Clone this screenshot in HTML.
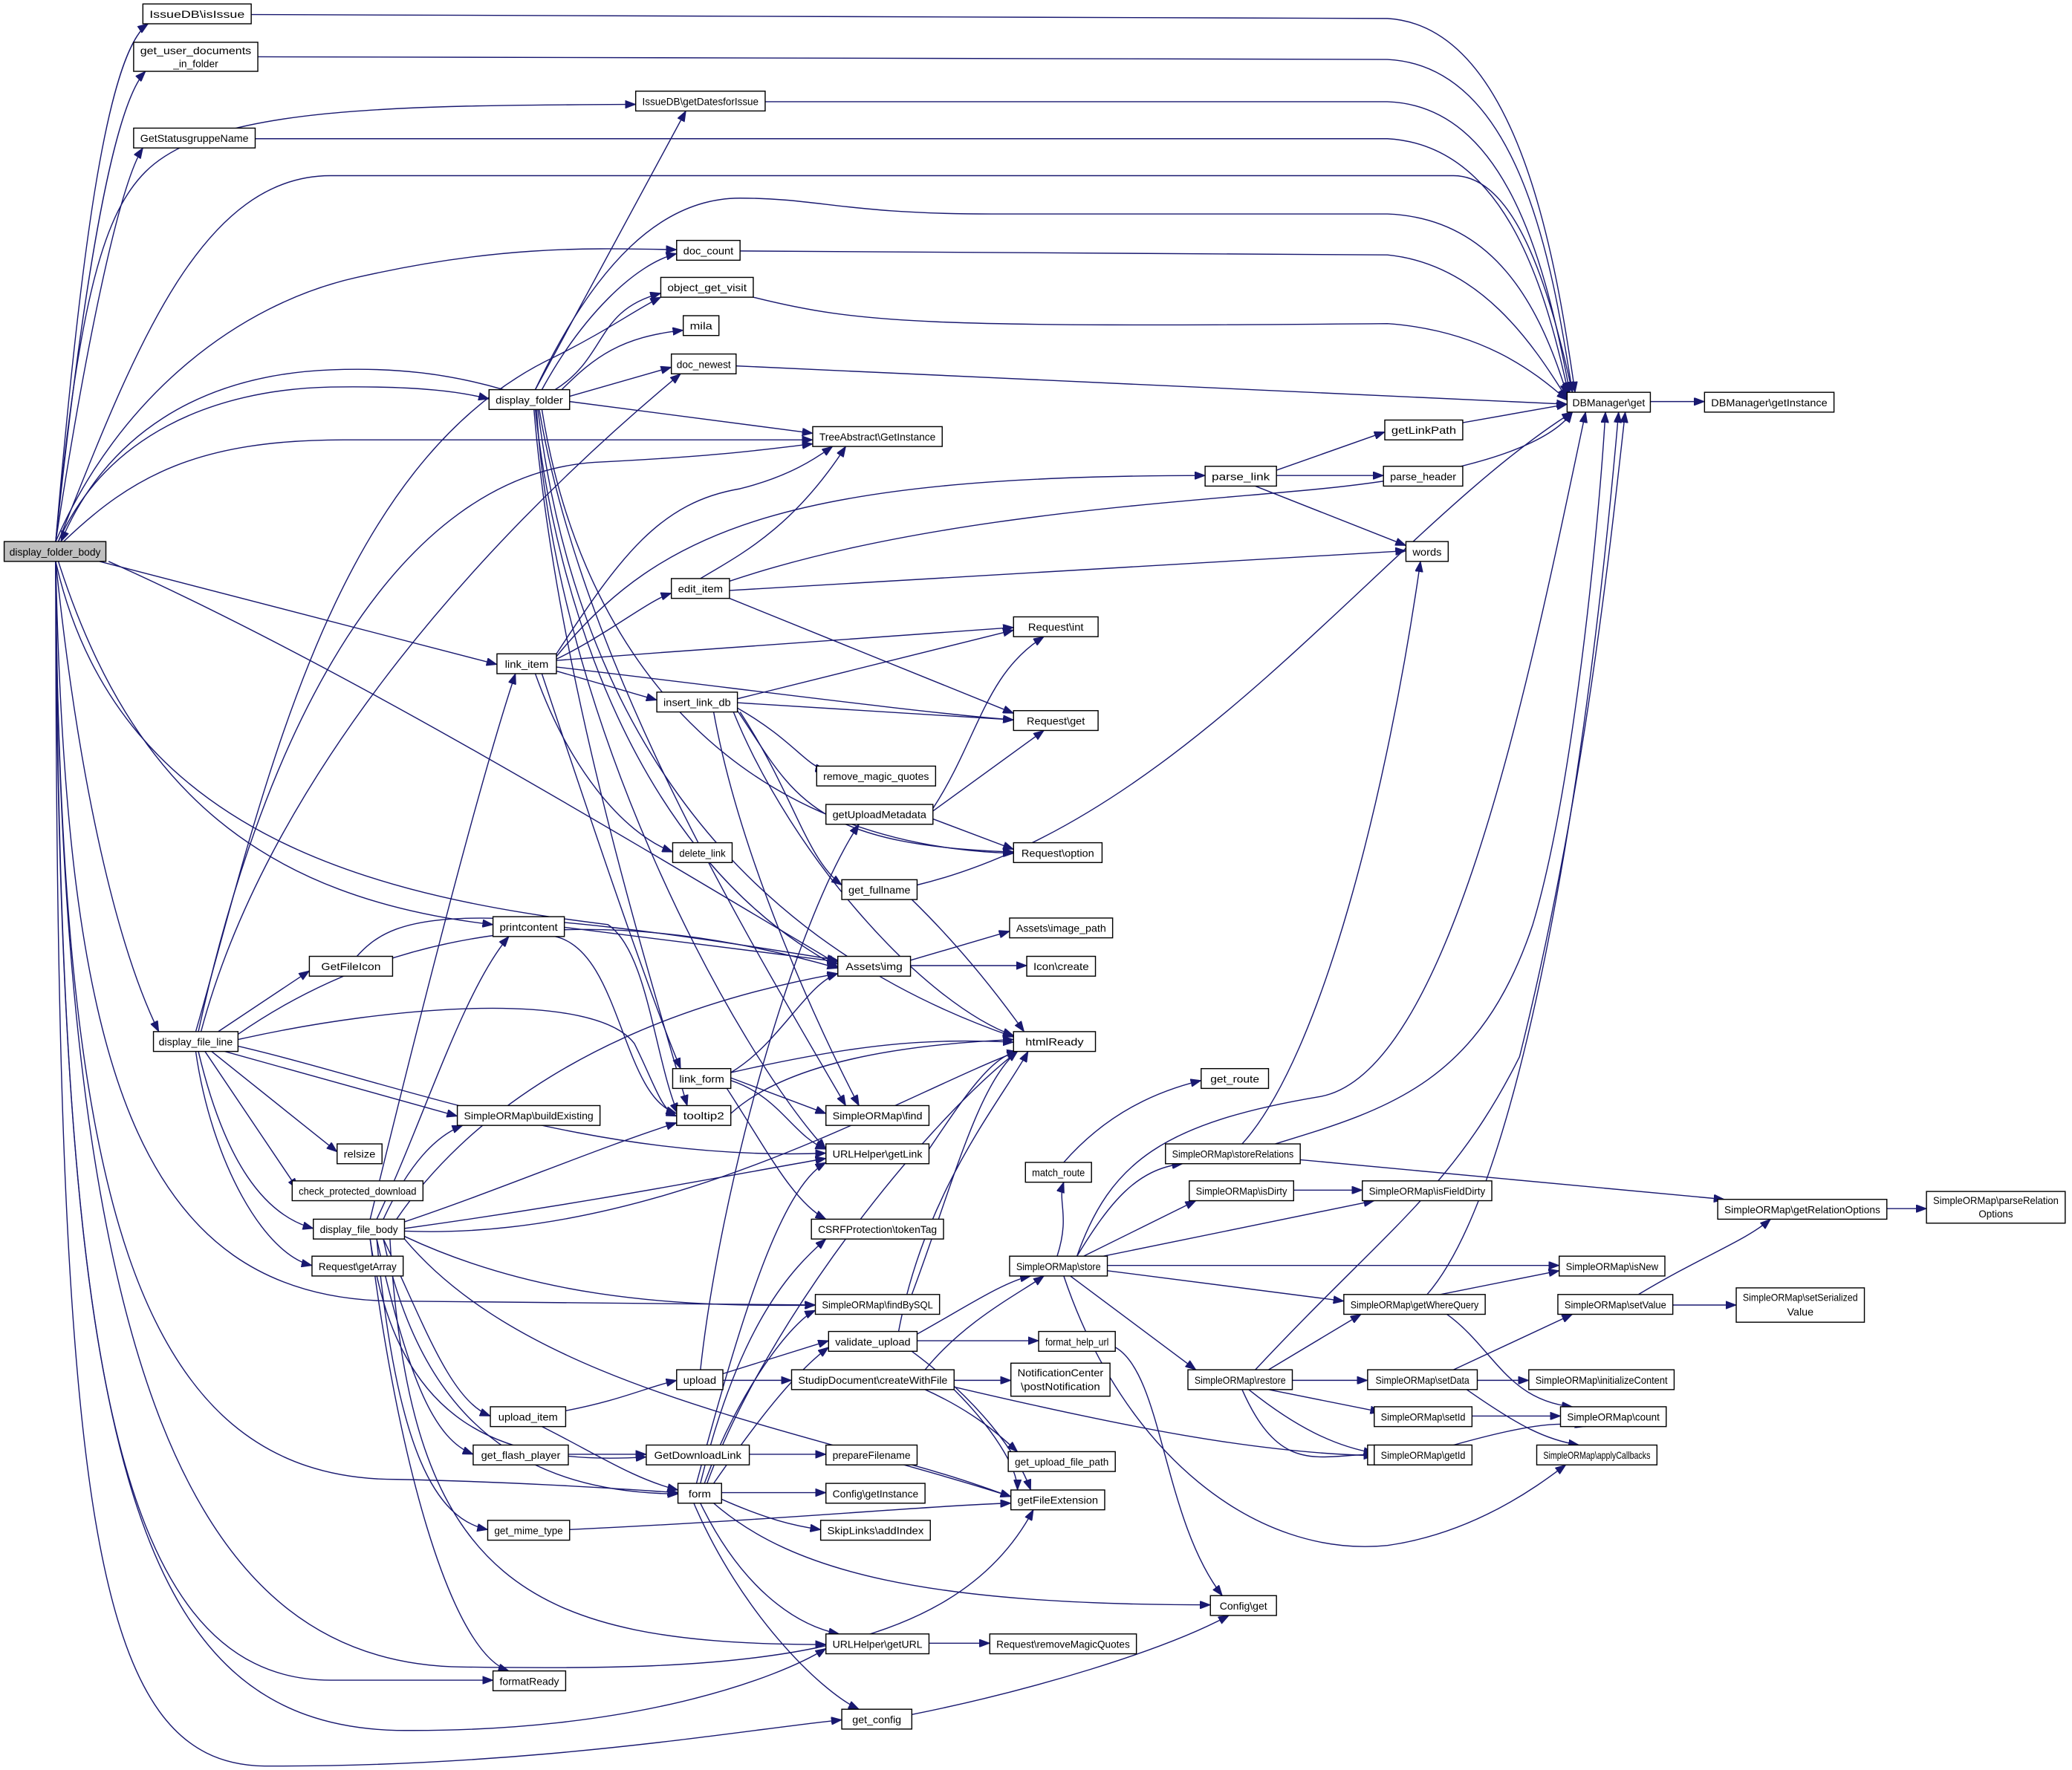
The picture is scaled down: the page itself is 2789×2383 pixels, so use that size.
<!DOCTYPE html>
<html><head><meta charset="utf-8"><style>
html,body{margin:0;padding:0;background:#fff;}
svg{display:block}
text{font-family:"Liberation Sans",sans-serif;font-size:8px;fill:#000;text-anchor:middle}
.e{fill:none;stroke:#191970;stroke-width:0.8;marker-end:url(#a)}
.n rect{fill:#fff;stroke:#000;stroke-width:0.8}
</style></head><body>
<svg width="2789" height="2383" viewBox="0 0 1568 1340" xmlns="http://www.w3.org/2000/svg">
<defs><marker id="a" markerWidth="8" markerHeight="6" refX="8" refY="3" orient="auto" markerUnits="userSpaceOnUse"><path d="M0,0 L8,3 L0,6z" fill="#191970" stroke="#191970" stroke-width="0.5"/></marker></defs>
<g>
<path class="e" d="M42,410 C60,200 80,40 112,18"/>
<path class="e" d="M42,410 C62,220 85,80 110,54"/>
<path class="e" d="M42,410 C60,220 80,160 110,130 C160,80 300,80 481,79"/>
<path class="e" d="M42,410 C65,260 90,140 108,112"/>
<path class="e" d="M44,410 C100,270 150,133 250,133 L1100,133 C1150,133 1175,230 1190,297"/>
<path class="e" d="M190,11 L1050,14 C1150,20 1178,200 1192,297"/>
<path class="e" d="M195,43 L1050,45 C1150,50 1175,200 1190,297"/>
<path class="e" d="M579,77 L1050,77 C1140,80 1170,200 1188,297"/>
<path class="e" d="M193,105 L1050,105 C1140,110 1170,220 1187,298"/>
<path class="e" d="M405,295 C450,200 500,150 560,150 C620,150 640,162 750,162 L1050,162 C1130,165 1165,230 1186,299"/>
<path class="e" d="M560,190 L1050,193 C1120,200 1160,260 1186,302"/>
<path class="e" d="M570,225 C650,245 700,248 1050,245 C1120,250 1160,280 1186,303"/>
<path class="e" d="M557,277 L1186,306"/>
<path class="e" d="M42,410 C90,300 180,230 270,210 C380,185 450,188 512,189"/>
<path class="e" d="M44,410 C80,330 160,295 250,293 C320,292 350,297 370,302"/>
<path class="e" d="M381,295 C340,283 300,278 250,280 C150,284 80,330 46,410"/>
<path class="e" d="M48,410 C100,360 150,333 260,333 L615,333"/>
<path class="e" d="M75,425 L376,503"/>
<path class="e" d="M82,425 C250,500 450,620 634,730"/>
<path class="e" d="M44,425 C100,600 200,680 373,700"/>
<path class="e" d="M42,425 C60,600 90,720 120,781"/>
<path class="e" d="M42,425 C90,640 300,680 460,700 C490,720 495,800 513,843"/>
<path class="e" d="M42,425 C50,800 100,985 300,985 L617,988"/>
<path class="e" d="M42,425 C45,900 100,1120 300,1120 C400,1122 480,1128 513,1130"/>
<path class="e" d="M42,425 C45,1000 80,1272 250,1272 L373,1272"/>
<path class="e" d="M42,425 C45,1050 150,1260 350,1262 C550,1265 720,1260 782,1143"/>
<path class="e" d="M42,425 C44,1100 100,1305 300,1310 C480,1312 590,1270 625,1248"/>
<path class="e" d="M42,425 C42,1150 70,1335 200,1337 C400,1338 560,1310 637,1302"/>
<path class="e" d="M405,295 L519,84"/>
<path class="e" d="M410,295 C440,240 480,200 512,192"/>
<path class="e" d="M420,295 C460,270 450,235 500,222"/>
<path class="e" d="M425,295 C450,270 470,255 517,250"/>
<path class="e" d="M431,300 L508,278"/>
<path class="e" d="M431,304 L615,328"/>
<path class="e" d="M405,310 C420,450 480,650 634,732"/>
<path class="e" d="M407,310 C430,500 520,700 767,785"/>
<path class="e" d="M408,310 C440,500 560,700 640,837"/>
<path class="e" d="M406,310 C420,550 560,800 625,870"/>
<path class="e" d="M404,310 C420,500 480,700 520,837"/>
<path class="e" d="M410,310 C440,500 560,640 767,646"/>
<path class="e" d="M148,781 C200,600 250,350 420,270 C460,250 480,235 500,225"/>
<path class="e" d="M150,781 C200,550 300,360 450,350 C550,345 580,340 615,336"/>
<path class="e" d="M152,781 C200,600 350,420 515,283"/>
<path class="e" d="M165,781 L234,735"/>
<path class="e" d="M180,783 C300,700 450,680 634,733"/>
<path class="e" d="M180,787 C300,760 450,750 480,790 C495,820 500,840 512,845"/>
<path class="e" d="M170,796 L346,845"/>
<path class="e" d="M160,796 L255,872"/>
<path class="e" d="M155,796 L225,900"/>
<path class="e" d="M150,796 C170,880 200,920 237,930"/>
<path class="e" d="M148,796 C160,880 200,950 236,958"/>
<path class="e" d="M180,792 C300,820 450,880 625,873"/>
<path class="e" d="M270,724 C300,690 350,680 634,727"/>
<path class="e" d="M427,702 L634,728"/>
<path class="e" d="M420,709 C470,720 470,830 512,843"/>
<path class="e" d="M553,843 C600,800 700,790 767,787"/>
<path class="e" d="M421,499 C460,480 490,455 508,449"/>
<path class="e" d="M421,500 C550,490 700,480 767,475"/>
<path class="e" d="M421,505 C550,520 700,540 767,545"/>
<path class="e" d="M421,508 L497,530"/>
<path class="e" d="M405,510 C430,580 470,630 509,645"/>
<path class="e" d="M410,510 C440,600 490,750 515,809"/>
<path class="e" d="M421,495 C470,420 500,380 560,370 C600,360 620,345 630,338"/>
<path class="e" d="M421,497 C500,400 600,360 912,360"/>
<path class="e" d="M530,438 C560,420 600,400 640,338"/>
<path class="e" d="M552,440 C700,390 900,380 1000,370 C1100,360 1170,340 1190,312"/>
<path class="e" d="M552,447 L1064,417"/>
<path class="e" d="M552,453 L767,540"/>
<path class="e" d="M558,529 L767,477"/>
<path class="e" d="M558,532 L767,545"/>
<path class="e" d="M558,536 C600,560 610,580 625,583"/>
<path class="e" d="M558,538 C600,600 610,640 767,645"/>
<path class="e" d="M555,539 C600,650 700,760 767,784"/>
<path class="e" d="M560,539 C600,600 610,650 637,670"/>
<path class="e" d="M540,539 C560,650 620,780 650,837"/>
<path class="e" d="M706,612 C740,560 745,510 790,482"/>
<path class="e" d="M706,614 L790,553"/>
<path class="e" d="M706,620 L767,643"/>
<path class="e" d="M694,670 C900,620 1050,400 1190,312"/>
<path class="e" d="M690,681 C730,720 760,760 775,781"/>
<path class="e" d="M689,727 L764,705"/>
<path class="e" d="M689,731 L777,731"/>
<path class="e" d="M966,356 L1048,327"/>
<path class="e" d="M966,360 L1047,360"/>
<path class="e" d="M950,368 L1064,413"/>
<path class="e" d="M1107,320 L1186,306"/>
<path class="e" d="M1249,304 L1290,304"/>
<path class="e" d="M553,812 C650,790 700,786 767,789"/>
<path class="e" d="M553,812 C590,790 610,745 634,737"/>
<path class="e" d="M553,818 C590,830 600,860 625,870"/>
<path class="e" d="M550,824 C580,870 600,910 625,923"/>
<path class="e" d="M553,816 L625,843"/>
<path class="e" d="M703,870 C730,830 750,800 770,796"/>
<path class="e" d="M690,980 C720,900 740,820 770,796"/>
<path class="e" d="M805,880 C840,840 880,825 909,818"/>
<path class="e" d="M800,951 C810,920 800,910 805,895"/>
<path class="e" d="M815,951 C840,910 860,885 895,881"/>
<path class="e" d="M820,951 L905,909"/>
<path class="e" d="M835,951 L1040,909"/>
<path class="e" d="M838,958 L1180,958"/>
<path class="e" d="M838,962 L1017,985"/>
<path class="e" d="M810,966 L905,1037"/>
<path class="e" d="M805,966 C850,1100 950,1180 1050,1170 C1120,1160 1170,1120 1185,1109"/>
<path class="e" d="M815,951 C840,880 880,850 1000,830 C1100,810 1160,500 1200,312"/>
<path class="e" d="M965,866 C1050,840 1120,820 1160,700 C1190,600 1210,400 1215,312"/>
<path class="e" d="M940,866 C1000,800 1050,600 1075,425"/>
<path class="e" d="M984,878 L1305,908"/>
<path class="e" d="M979,901 L1031,901"/>
<path class="e" d="M1428,915 L1458,915"/>
<path class="e" d="M1090,980 L1180,962"/>
<path class="e" d="M1095,995 C1130,1020 1140,1060 1190,1065"/>
<path class="e" d="M1080,980 C1150,900 1200,600 1225,312"/>
<path class="e" d="M1240,980 C1290,950 1320,940 1340,923"/>
<path class="e" d="M1266,988 L1314,988"/>
<path class="e" d="M960,1037 L1030,995"/>
<path class="e" d="M978,1045 L1035,1045"/>
<path class="e" d="M960,1052 L1045,1069"/>
<path class="e" d="M945,1052 C980,1080 1010,1095 1040,1100"/>
<path class="e" d="M940,1052 C970,1120 1000,1100 1045,1101"/>
<path class="e" d="M950,1037 C1050,930 1100,900 1150,800 C1200,600 1220,400 1230,312"/>
<path class="e" d="M1100,1037 L1190,995"/>
<path class="e" d="M1118,1045 L1157,1045"/>
<path class="e" d="M1110,1052 C1150,1080 1170,1090 1195,1094"/>
<path class="e" d="M1114,1072 L1181,1072"/>
<path class="e" d="M1100,1094 C1150,1080 1180,1075 1200,1080"/>
<path class="e" d="M530,1037 C545,900 600,700 650,624"/>
<path class="e" d="M547,1040 L627,1015"/>
<path class="e" d="M547,1045 L599,1045"/>
<path class="e" d="M694,1010 C730,990 760,970 780,966"/>
<path class="e" d="M694,1015 L786,1015"/>
<path class="e" d="M680,1008 C700,900 760,830 778,796"/>
<path class="e" d="M690,1023 C740,1060 770,1100 780,1128"/>
<path class="e" d="M700,1037 C730,1000 770,980 790,966"/>
<path class="e" d="M722,1045 L765,1045"/>
<path class="e" d="M700,1052 C740,1070 760,1090 770,1099"/>
<path class="e" d="M722,1050 C850,1080 950,1100 1040,1102"/>
<path class="e" d="M722,1052 C750,1080 770,1110 770,1128"/>
<path class="e" d="M844,1020 C880,1040 880,1150 925,1208"/>
<path class="e" d="M428,1068 C470,1060 490,1050 512,1045"/>
<path class="e" d="M410,1080 C450,1100 480,1120 513,1128"/>
<path class="e" d="M430,1101 L489,1101"/>
<path class="e" d="M567,1101 L625,1101"/>
<path class="e" d="M690,1109 C730,1120 750,1128 765,1133"/>
<path class="e" d="M540,1123 C570,1080 600,1040 627,1020"/>
<path class="e" d="M530,1123 C560,1000 600,960 625,938"/>
<path class="e" d="M527,1123 C560,1000 590,900 625,880"/>
<path class="e" d="M535,1123 C580,1000 700,850 770,796"/>
<path class="e" d="M533,1123 C560,1050 600,1000 617,992"/>
<path class="e" d="M546,1130 L625,1130"/>
<path class="e" d="M546,1135 C580,1150 600,1155 621,1158"/>
<path class="e" d="M540,1138 C600,1190 700,1215 916,1215"/>
<path class="e" d="M530,1138 C560,1200 600,1230 635,1237"/>
<path class="e" d="M525,1138 C560,1220 620,1280 650,1294"/>
<path class="e" d="M431,1158 C600,1150 700,1140 765,1138"/>
<path class="e" d="M703,1244 L749,1244"/>
<path class="e" d="M690,1298 C780,1280 880,1250 930,1223"/>
<path class="e" d="M280,923 C310,800 360,600 390,510"/>
<path class="e" d="M285,923 C320,850 350,750 385,709"/>
<path class="e" d="M290,923 C310,880 330,860 350,852"/>
<path class="e" d="M300,923 C350,850 450,770 634,737"/>
<path class="e" d="M306,925 C380,900 450,870 512,850"/>
<path class="e" d="M306,930 C450,910 550,890 625,877"/>
<path class="e" d="M306,932 C500,940 680,830 770,796"/>
<path class="e" d="M306,936 C400,980 500,990 617,988"/>
<path class="e" d="M290,938 C320,1000 340,1060 371,1072"/>
<path class="e" d="M285,938 C310,1050 330,1090 358,1101"/>
<path class="e" d="M280,938 C300,1080 380,1110 489,1103"/>
<path class="e" d="M285,938 C300,1100 330,1150 369,1158"/>
<path class="e" d="M280,938 C300,1100 340,1250 385,1265"/>
<path class="e" d="M295,938 C310,1200 400,1245 625,1245"/>
<path class="e" d="M306,938 C400,1050 600,1080 765,1133"/>
<path class="e" d="M290,938 C320,1080 400,1130 513,1131"/>
</g>
<g class="n">
<rect x="3" y="410" width="77" height="15" style="fill:#bfbfbf"/><text x="41.5" y="420.5" textLength="69" lengthAdjust="spacingAndGlyphs">display_folder_body</text>
<rect x="108" y="3" width="82" height="15"/><text x="149" y="13.5" textLength="72" lengthAdjust="spacingAndGlyphs">IssueDB\isIssue</text>
<rect x="101" y="32" width="94" height="22"/><text x="148" y="41" textLength="84" lengthAdjust="spacingAndGlyphs">get_user_documents</text><text x="148" y="51" textLength="34" lengthAdjust="spacingAndGlyphs">_in_folder</text>
<rect x="481" y="69" width="98" height="15"/><text x="530" y="79.5" textLength="88" lengthAdjust="spacingAndGlyphs">IssueDB\getDatesforIssue</text>
<rect x="101" y="97" width="92" height="15"/><text x="147" y="107.5" textLength="82" lengthAdjust="spacingAndGlyphs">GetStatusgruppeName</text>
<rect x="512" y="182" width="48" height="15"/><text x="536" y="192.5" textLength="38" lengthAdjust="spacingAndGlyphs">doc_count</text>
<rect x="500" y="210" width="70" height="15"/><text x="535" y="220.5" textLength="60" lengthAdjust="spacingAndGlyphs">object_get_visit</text>
<rect x="517" y="239" width="27" height="15"/><text x="530.5" y="249.5" textLength="17" lengthAdjust="spacingAndGlyphs">mila</text>
<rect x="508" y="268" width="49" height="15"/><text x="532.5" y="278.5" textLength="41" lengthAdjust="spacingAndGlyphs">doc_newest</text>
<rect x="370" y="295" width="61" height="15"/><text x="400.5" y="305.5" textLength="51" lengthAdjust="spacingAndGlyphs">display_folder</text>
<rect x="615" y="323" width="98" height="15"/><text x="664" y="333.5" textLength="88" lengthAdjust="spacingAndGlyphs">TreeAbstract\GetInstance</text>
<rect x="1186" y="297" width="63" height="15"/><text x="1217.5" y="307.5" textLength="55" lengthAdjust="spacingAndGlyphs">DBManager\get</text>
<rect x="1290" y="297" width="98" height="15"/><text x="1339" y="307.5" textLength="88" lengthAdjust="spacingAndGlyphs">DBManager\getInstance</text>
<rect x="1048" y="318" width="59" height="15"/><text x="1077.5" y="328.5" textLength="49" lengthAdjust="spacingAndGlyphs">getLinkPath</text>
<rect x="912" y="353" width="54" height="15"/><text x="939" y="363.5" textLength="44" lengthAdjust="spacingAndGlyphs">parse_link</text>
<rect x="1047" y="353" width="60" height="15"/><text x="1077" y="363.5" textLength="50" lengthAdjust="spacingAndGlyphs">parse_header</text>
<rect x="1064" y="410" width="32" height="15"/><text x="1080" y="420.5" textLength="22" lengthAdjust="spacingAndGlyphs">words</text>
<rect x="508" y="438" width="44" height="15"/><text x="530" y="448.5" textLength="34" lengthAdjust="spacingAndGlyphs">edit_item</text>
<rect x="767" y="467" width="64" height="15"/><text x="799" y="477.5" textLength="42" lengthAdjust="spacingAndGlyphs">Request\int</text>
<rect x="376" y="495" width="45" height="15"/><text x="398.5" y="505.5" textLength="33" lengthAdjust="spacingAndGlyphs">link_item</text>
<rect x="497" y="524" width="61" height="15"/><text x="527.5" y="534.5" textLength="51" lengthAdjust="spacingAndGlyphs">insert_link_db</text>
<rect x="767" y="538" width="64" height="15"/><text x="799" y="548.5" textLength="44" lengthAdjust="spacingAndGlyphs">Request\get</text>
<rect x="618" y="580" width="90" height="15"/><text x="663" y="590.5" textLength="80" lengthAdjust="spacingAndGlyphs">remove_magic_quotes</text>
<rect x="625" y="609" width="81" height="15"/><text x="665.5" y="619.5" textLength="71" lengthAdjust="spacingAndGlyphs">getUploadMetadata</text>
<rect x="767" y="638" width="67" height="15"/><text x="800.5" y="648.5" textLength="55" lengthAdjust="spacingAndGlyphs">Request\option</text>
<rect x="509" y="638" width="45" height="15"/><text x="531.5" y="648.5" textLength="35" lengthAdjust="spacingAndGlyphs">delete_link</text>
<rect x="637" y="666" width="57" height="15"/><text x="665.5" y="676.5" textLength="47" lengthAdjust="spacingAndGlyphs">get_fullname</text>
<rect x="373" y="694" width="54" height="15"/><text x="400" y="704.5" textLength="44" lengthAdjust="spacingAndGlyphs">printcontent</text>
<rect x="634" y="724" width="55" height="15"/><text x="661.5" y="734.5" textLength="43" lengthAdjust="spacingAndGlyphs">Assets\img</text>
<rect x="764" y="695" width="78" height="15"/><text x="803" y="705.5" textLength="68" lengthAdjust="spacingAndGlyphs">Assets\image_path</text>
<rect x="777" y="724" width="52" height="15"/><text x="803" y="734.5" textLength="42" lengthAdjust="spacingAndGlyphs">Icon\create</text>
<rect x="234" y="724" width="63" height="15"/><text x="265.5" y="734.5" textLength="45" lengthAdjust="spacingAndGlyphs">GetFileIcon</text>
<rect x="116" y="781" width="64" height="15"/><text x="148" y="791.5" textLength="56" lengthAdjust="spacingAndGlyphs">display_file_line</text>
<rect x="767" y="781" width="62" height="15"/><text x="798" y="791.5" textLength="44" lengthAdjust="spacingAndGlyphs">htmlReady</text>
<rect x="509" y="809" width="44" height="15"/><text x="531" y="819.5" textLength="34" lengthAdjust="spacingAndGlyphs">link_form</text>
<rect x="909" y="809" width="51" height="15"/><text x="934.5" y="819.5" textLength="37" lengthAdjust="spacingAndGlyphs">get_route</text>
<rect x="625" y="837" width="78" height="15"/><text x="664" y="847.5" textLength="68" lengthAdjust="spacingAndGlyphs">SimpleORMap\find</text>
<rect x="512" y="837" width="41" height="15"/><text x="532.5" y="847.5" textLength="31" lengthAdjust="spacingAndGlyphs">tooltip2</text>
<rect x="346" y="837" width="108" height="15"/><text x="400" y="847.5" textLength="98" lengthAdjust="spacingAndGlyphs">SimpleORMap\buildExisting</text>
<rect x="625" y="866" width="78" height="15"/><text x="664" y="876.5" textLength="68" lengthAdjust="spacingAndGlyphs">URLHelper\getLink</text>
<rect x="882" y="866" width="102" height="15"/><text x="933" y="876.5" textLength="92" lengthAdjust="spacingAndGlyphs">SimpleORMap\storeRelations</text>
<rect x="255" y="866" width="34" height="15"/><text x="272" y="876.5" textLength="24" lengthAdjust="spacingAndGlyphs">relsize</text>
<rect x="776" y="880" width="50" height="15"/><text x="801" y="890.5" textLength="40" lengthAdjust="spacingAndGlyphs">match_route</text>
<rect x="221" y="894" width="99" height="15"/><text x="270.5" y="904.5" textLength="89" lengthAdjust="spacingAndGlyphs">check_protected_download</text>
<rect x="900" y="894" width="79" height="15"/><text x="939.5" y="904.5" textLength="69" lengthAdjust="spacingAndGlyphs">SimpleORMap\isDirty</text>
<rect x="1031" y="894" width="98" height="15"/><text x="1080" y="904.5" textLength="88" lengthAdjust="spacingAndGlyphs">SimpleORMap\isFieldDirty</text>
<rect x="237" y="923" width="69" height="15"/><text x="271.5" y="933.5" textLength="59" lengthAdjust="spacingAndGlyphs">display_file_body</text>
<rect x="614" y="923" width="100" height="15"/><text x="664" y="933.5" textLength="90" lengthAdjust="spacingAndGlyphs">CSRFProtection\tokenTag</text>
<rect x="1300" y="908" width="128" height="15"/><text x="1364" y="918.5" textLength="118" lengthAdjust="spacingAndGlyphs">SimpleORMap\getRelationOptions</text>
<rect x="1458" y="902" width="105" height="24"/><text x="1510.5" y="911.5" textLength="95" lengthAdjust="spacingAndGlyphs">SimpleORMap\parseRelation</text><text x="1510.5" y="921.5" textLength="26" lengthAdjust="spacingAndGlyphs">Options</text>
<rect x="236" y="951" width="69" height="15"/><text x="270.5" y="961.5" textLength="59" lengthAdjust="spacingAndGlyphs">Request\getArray</text>
<rect x="764" y="951" width="74" height="15"/><text x="801" y="961.5" textLength="64" lengthAdjust="spacingAndGlyphs">SimpleORMap\store</text>
<rect x="1180" y="951" width="80" height="15"/><text x="1220" y="961.5" textLength="70" lengthAdjust="spacingAndGlyphs">SimpleORMap\isNew</text>
<rect x="617" y="980" width="94" height="15"/><text x="664" y="990.5" textLength="84" lengthAdjust="spacingAndGlyphs">SimpleORMap\findBySQL</text>
<rect x="1017" y="980" width="107" height="15"/><text x="1070.5" y="990.5" textLength="97" lengthAdjust="spacingAndGlyphs">SimpleORMap\getWhereQuery</text>
<rect x="1179" y="980" width="87" height="15"/><text x="1222.5" y="990.5" textLength="77" lengthAdjust="spacingAndGlyphs">SimpleORMap\setValue</text>
<rect x="1314" y="975" width="97" height="26"/><text x="1362.5" y="985" textLength="87" lengthAdjust="spacingAndGlyphs">SimpleORMap\setSerialized</text><text x="1362.5" y="996" textLength="20" lengthAdjust="spacingAndGlyphs">Value</text>
<rect x="627" y="1008" width="67" height="15"/><text x="660.5" y="1018.5" textLength="57" lengthAdjust="spacingAndGlyphs">validate_upload</text>
<rect x="786" y="1008" width="58" height="15"/><text x="815" y="1018.5" textLength="48" lengthAdjust="spacingAndGlyphs">format_help_url</text>
<rect x="899" y="1037" width="79" height="15"/><text x="938.5" y="1047.5" textLength="69" lengthAdjust="spacingAndGlyphs">SimpleORMap\restore</text>
<rect x="1035" y="1037" width="83" height="15"/><text x="1076.5" y="1047.5" textLength="71" lengthAdjust="spacingAndGlyphs">SimpleORMap\setData</text>
<rect x="1157" y="1037" width="110" height="15"/><text x="1212" y="1047.5" textLength="100" lengthAdjust="spacingAndGlyphs">SimpleORMap\initializeContent</text>
<rect x="512" y="1037" width="35" height="15"/><text x="529.5" y="1047.5" textLength="25" lengthAdjust="spacingAndGlyphs">upload</text>
<rect x="599" y="1037" width="123" height="15"/><text x="660.5" y="1047.5" textLength="113" lengthAdjust="spacingAndGlyphs">StudipDocument\createWithFile</text>
<rect x="765" y="1032" width="75" height="25"/><text x="802.5" y="1042" textLength="65" lengthAdjust="spacingAndGlyphs">NotificationCenter</text><text x="802.5" y="1052.5" textLength="60" lengthAdjust="spacingAndGlyphs">\postNotification</text>
<rect x="1040" y="1065" width="74" height="15"/><text x="1077" y="1075.5" textLength="64" lengthAdjust="spacingAndGlyphs">SimpleORMap\setId</text>
<rect x="1181" y="1065" width="80" height="15"/><text x="1221" y="1075.5" textLength="70" lengthAdjust="spacingAndGlyphs">SimpleORMap\count</text>
<rect x="371" y="1065" width="57" height="15"/><text x="399.5" y="1075.5" textLength="45" lengthAdjust="spacingAndGlyphs">upload_item</text>
<rect x="1035" y="1094" width="78" height="15"/><text x="1074" y="1104.5" textLength="68" lengthAdjust="spacingAndGlyphs">SimpleORMap\setNew</text>
<rect x="358" y="1094" width="72" height="15"/><text x="394" y="1104.5" textLength="60" lengthAdjust="spacingAndGlyphs">get_flash_player</text>
<rect x="489" y="1094" width="78" height="15"/><text x="528" y="1104.5" textLength="66" lengthAdjust="spacingAndGlyphs">GetDownloadLink</text>
<rect x="625" y="1094" width="69" height="15"/><text x="659.5" y="1104.5" textLength="59" lengthAdjust="spacingAndGlyphs">prepareFilename</text>
<rect x="1040" y="1094" width="74" height="15"/><text x="1077" y="1104.5" textLength="64" lengthAdjust="spacingAndGlyphs">SimpleORMap\getId</text>
<rect x="1163" y="1094" width="91" height="15"/><text x="1208.5" y="1104.5" textLength="81" lengthAdjust="spacingAndGlyphs">SimpleORMap\applyCallbacks</text>
<rect x="763" y="1099" width="81" height="15"/><text x="803.5" y="1109.5" textLength="71" lengthAdjust="spacingAndGlyphs">get_upload_file_path</text>
<rect x="765" y="1128" width="71" height="15"/><text x="800.5" y="1138.5" textLength="61" lengthAdjust="spacingAndGlyphs">getFileExtension</text>
<rect x="513" y="1123" width="33" height="15"/><text x="529.5" y="1133.5" textLength="17" lengthAdjust="spacingAndGlyphs">form</text>
<rect x="625" y="1123" width="75" height="15"/><text x="662.5" y="1133.5" textLength="65" lengthAdjust="spacingAndGlyphs">Config\getInstance</text>
<rect x="621" y="1151" width="83" height="15"/><text x="662.5" y="1161.5" textLength="73" lengthAdjust="spacingAndGlyphs">SkipLinks\addIndex</text>
<rect x="369" y="1151" width="62" height="15"/><text x="400" y="1161.5" textLength="52" lengthAdjust="spacingAndGlyphs">get_mime_type</text>
<rect x="916" y="1208" width="50" height="15"/><text x="941" y="1218.5" textLength="36" lengthAdjust="spacingAndGlyphs">Config\get</text>
<rect x="625" y="1237" width="78" height="15"/><text x="664" y="1247.5" textLength="68" lengthAdjust="spacingAndGlyphs">URLHelper\getURL</text>
<rect x="749" y="1237" width="111" height="15"/><text x="804.5" y="1247.5" textLength="101" lengthAdjust="spacingAndGlyphs">Request\removeMagicQuotes</text>
<rect x="373" y="1265" width="55" height="15"/><text x="400.5" y="1275.5" textLength="45" lengthAdjust="spacingAndGlyphs">formatReady</text>
<rect x="637" y="1294" width="53" height="15"/><text x="663.5" y="1304.5" textLength="37" lengthAdjust="spacingAndGlyphs">get_config</text>
</g>
</svg>
</body></html>
